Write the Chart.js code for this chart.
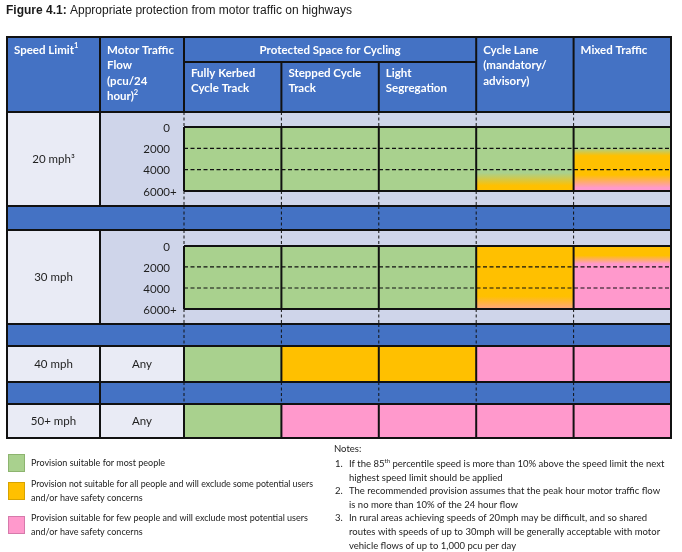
<!DOCTYPE html>
<html>
<head>
<meta charset="utf-8">
<title>Figure 4.1</title>
<script src="https://cdn.jsdelivr.net/npm/chart.js@4.4.1/dist/chart.umd.min.js"></script>
<style>
  html, body { margin: 0; padding: 0; background: #fff; }
  #wrap { width: 682px; height: 552px; }
</style>
</head>
<body>
<div id="wrap"><canvas id="chart" width="682" height="552"></canvas></div>
<script>
const provisionTypes = ['Fully Kerbed Cycle Track', 'Stepped Cycle Track', 'Light Segregation', 'Cycle Lane (mandatory/advisory)', 'Mixed Traffic'];
const provisionHeaderLines = [['Fully Kerbed', 'Cycle Track'], ['Stepped Cycle', 'Track'], ['Light', 'Segregation'], ['Cycle Lane', '(mandatory/', 'advisory)'], ['Mixed Traffic']];
const speedLimits = ['20 mph³', '30 mph', '40 mph', '50+ mph'];
const flowTicks = [0, 2000, 4000, 6000];
const flowTickLabels = ['0', '2000', '4000', '6000+'];
const anyFlowLabel = 'Any';

// 1 = suitable for most people, 2 = excludes some users, 3 = suitable for few people
const suitabilityColors = ['#a9d18e', '#ffc000', '#ff99cc'];
// colour stops down the flow axis, [flow, level]
const zones20mph = [
  [[0, 1]],
  [[0, 1]],
  [[0, 1]],
  [[4300, 1], [5500, 2]],
  [[2000, 1], [2700, 2], [4500, 2], [5700, 3]],
];
const zones30mph = [
  [[0, 1]],
  [[0, 1]],
  [[0, 1]],
  [[4800, 2], [6700, 3]],
  [[900, 2], [1700, 3]],
];
const levels40mph = [1, 2, 2, 3, 3];
const levels50mph = [1, 3, 3, 3, 3];

const legendLabels = [
  ['Provision suitable for most people'],
  ['Provision not suitable for all people and will exclude some potential users', 'and/or have safety concerns'],
  ['Provision suitable for few people and will exclude most potential users', 'and/or have safety concerns'],
];
const notes = [
  ['If the 85^th^ percentile speed is more than 10% above the speed limit the next', 'highest speed limit should be applied'],
  ['The recommended provision assumes that the peak hour motor traffic flow', 'is no more than 10% of the 24 hour flow'],
  ['In rural areas achieving speeds of 20mph may be difficult, and so shared', 'routes with speeds of up to 30mph will be generally acceptable with motor', 'vehicle flows of up to 1,000 pcu per day'],
];

const BLUE = '#4472c4', PALE = '#e9ebf5', LAVENDER = '#cfd5ea', INK = '#111';
const FONT = 'Lato, "Open Sans", sans-serif';
const TABLE_LEFT = 7, FLOW_COL_X = 100, HEADER_TOP = 37, SUBHEAD_Y = 62;

function zoneFill(ctx, axisId, zones) {
  const stops = zones[ctx.dataIndex];
  const first = stops[0], last = stops[stops.length - 1];
  if (stops.length === 1) return suitabilityColors[first[1] - 1];
  const y = ctx.chart.scales[axisId];
  if (!y) return suitabilityColors[first[1] - 1];
  const g = ctx.chart.ctx.createLinearGradient(0, y.getPixelForValue(first[0]), 0, y.getPixelForValue(last[0]));
  stops.forEach(([flow, level]) => {
    g.addColorStop((flow - first[0]) / (last[0] - first[0]), suitabilityColors[level - 1]);
  });
  return g;
}

function rowAxis(weight, min, max) {
  return {
    type: 'linear', position: 'right', stack: 'rows', stackWeight: weight,
    reverse: true, min: min, max: max,
    ticks: { display: false }, grid: { display: false }, border: { display: false },
    afterFit: (s) => { s.width = 0; },
  };
}

function line(ctx, x1, y1, x2, y2, width, dash) {
  ctx.save();
  ctx.strokeStyle = INK;
  ctx.lineWidth = width;
  ctx.setLineDash(dash || []);
  ctx.beginPath();
  ctx.moveTo(x1, y1);
  ctx.lineTo(x2, y2);
  ctx.stroke();
  ctx.restore();
}

// text with ^superscript^ parts
function richText(ctx, text, x, y, size, weight) {
  text.split('^').forEach((part, i) => {
    const sup = i % 2 === 1;
    ctx.font = `${weight || ''} ${sup ? size * 0.65 : size}px ${FONT}`;
    ctx.fillText(part, x, sup ? y - size * 0.35 : y);
    x += ctx.measureText(part).width;
  });
}

const tablePlugin = {
  id: 'tableFrame',
  beforeDatasetsDraw(chart) {
    const { ctx, chartArea: area, scales } = chart;
    ctx.save();
    ctx.fillStyle = BLUE;
    ctx.fillRect(TABLE_LEFT, HEADER_TOP, area.right - TABLE_LEFT, area.top - HEADER_TOP);
    ['y20', 'y30', 'y40', 'y50'].forEach((id, i) => {
      const s = scales[id];
      const flowRow = i < 2;
      ctx.fillStyle = PALE;
      ctx.fillRect(TABLE_LEFT, s.top, FLOW_COL_X - TABLE_LEFT, s.height);
      ctx.fillStyle = flowRow ? LAVENDER : PALE;
      ctx.fillRect(FLOW_COL_X, s.top, area.left - FLOW_COL_X, s.height);
      if (flowRow) ctx.fillRect(area.left, s.top, area.width, s.height);
    });
    ['gap1', 'gap2', 'gap3'].forEach((id) => {
      const s = scales[id];
      ctx.fillStyle = BLUE;
      ctx.fillRect(TABLE_LEFT, s.top, area.right - TABLE_LEFT, s.height);
    });
    ctx.restore();
  },
  afterDatasetsDraw(chart) {
    const { ctx, chartArea: area, scales } = chart;
    const x = scales.x;
    const colW = x.width / provisionTypes.length;
    const edges = provisionTypes.map((_, i) => x.getPixelForValue(i) - colW / 2);
    const dashV = [3, 2.5], dashH = [4, 2.5];

    // flow blocks: coloured band with dashed flow lines
    ['y20', 'y30'].forEach((id) => {
      const s = scales[id];
      const top = s.getPixelForValue(flowTicks[0]);
      const bot = s.getPixelForValue(flowTicks[flowTicks.length - 1]);
      flowTicks.slice(1, -1).forEach((t) => {
        const py = s.getPixelForValue(t);
        line(ctx, area.left, py, area.right, py, 1.2, dashH);
      });
      line(ctx, area.left, top, area.right, top, 2);
      line(ctx, area.left, bot, area.right, bot, 2);
      edges.forEach((ex) => {
        line(ctx, ex, top, ex, bot, 2);
        line(ctx, ex, s.top, ex, top, 1, dashV);
        line(ctx, ex, bot, ex, s.bottom, 1, dashV);
      });
    });
    ['y40', 'y50'].forEach((id) => {
      const s = scales[id];
      edges.forEach((ex) => line(ctx, ex, s.top, ex, s.bottom, 2));
    });
    ['gap1', 'gap2', 'gap3'].forEach((id) => {
      const s = scales[id];
      edges.forEach((ex) => line(ctx, ex, s.top, ex, s.bottom, 1, dashV));
      line(ctx, TABLE_LEFT, s.top, area.right, s.top, 2);
      line(ctx, TABLE_LEFT, s.bottom, area.right, s.bottom, 2);
    });
    // speed / flow column divider, open across the first two separators
    ['y20', 'y30', 'y40', 'gap3', 'y50'].forEach((id) => {
      const s = scales[id];
      line(ctx, FLOW_COL_X, s.top, FLOW_COL_X, s.bottom, 2);
    });

    // header grid
    line(ctx, TABLE_LEFT, area.top, area.right, area.top, 2);
    [FLOW_COL_X, area.left, edges[3], edges[4]].forEach((ex) => line(ctx, ex, HEADER_TOP, ex, area.top, 2));
    [edges[1], edges[2]].forEach((ex) => line(ctx, ex, SUBHEAD_Y, ex, area.top, 2));
    line(ctx, area.left, SUBHEAD_Y, edges[3], SUBHEAD_Y, 2);
    ctx.save();
    ctx.strokeStyle = INK;
    ctx.lineWidth = 2;
    ctx.strokeRect(TABLE_LEFT, HEADER_TOP, area.right - TABLE_LEFT, area.bottom - HEADER_TOP);
    ctx.restore();

    // header text
    ctx.save();
    ctx.fillStyle = '#fff';
    ctx.textBaseline = 'middle';
    ctx.textAlign = 'left';
    const hs = 11.5;
    richText(ctx, 'Speed Limit^1^', TABLE_LEFT + 7, 50, hs, 'bold');
    ['Motor Traffic', 'Flow', '(pcu/24', 'hour)^2^'].forEach((t, i) => richText(ctx, t, FLOW_COL_X + 7, 50 + i * 15.5, hs, 'bold'));
    ctx.font = `bold ${hs}px ${FONT}`;
    ctx.textAlign = 'center';
    ctx.fillText('Protected Space for Cycling', (area.left + edges[3]) / 2, 50);
    ctx.textAlign = 'left';
    provisionHeaderLines.forEach((lines, i) => {
      const y0 = i < 3 ? 73 : 50;
      lines.forEach((t, j) => ctx.fillText(t, edges[i] + 7, y0 + j * 15.5));
    });
    ctx.restore();

    // row labels and flow ticks
    ctx.save();
    ctx.fillStyle = '#1f1f1f';
    ctx.textBaseline = 'middle';
    ctx.font = `11.5px ${FONT}`;
    ['y20', 'y30', 'y40', 'y50'].forEach((id, i) => {
      const s = scales[id];
      const cy = (s.top + s.bottom) / 2;
      ctx.textAlign = 'center';
      ctx.fillText(speedLimits[i], (TABLE_LEFT + FLOW_COL_X) / 2, cy);
      if (i < 2) {
        ctx.textAlign = 'left';
        flowTickLabels.forEach((lbl, k) => {
          const digits = lbl.replace('+', '');
          ctx.fillText(lbl, area.left - 14 - ctx.measureText(digits).width, s.getPixelForValue(flowTicks[k]) + 1);
        });
      } else {
        ctx.textAlign = 'center';
        ctx.fillText(anyFlowLabel, (FLOW_COL_X + area.left) / 2, cy);
      }
    });
    ctx.restore();
  },
  afterDraw(chart) {
    const { ctx } = chart;
    ctx.save();
    ctx.textBaseline = 'middle';
    ctx.textAlign = 'left';
    // title
    ctx.fillStyle = '#1a1a1a';
    ctx.font = 'bold 12px "Liberation Sans", Arial, sans-serif';
    ctx.fillText('Figure 4.1:', 6, 11);
    const tw = ctx.measureText('Figure 4.1: ').width;
    ctx.font = '12px "Liberation Sans", Arial, sans-serif';
    ctx.fillText('Appropriate protection from motor traffic on highways', 6 + tw, 11);

    // legend
    const legendY = [463, 491, 525];
    const legendStroke = ['#8db46f', '#d7a300', '#d67aab'];
    legendLabels.forEach((lines, i) => {
      ctx.fillStyle = suitabilityColors[i];
      ctx.fillRect(8, legendY[i] - 9, 17, 18);
      ctx.strokeStyle = legendStroke[i];
      ctx.lineWidth = 1;
      ctx.strokeRect(8.5, legendY[i] - 8.5, 16, 17);
      ctx.fillStyle = '#222';
      ctx.font = `9px ${FONT}`;
      const y0 = legendY[i] - (lines.length - 1) * 7;
      lines.forEach((t, j) => ctx.fillText(t, 31, y0 + j * 14, 282));
    });

    // notes
    ctx.fillStyle = '#222';
    ctx.font = `9.5px ${FONT}`;
    ctx.fillText('Notes:', 334, 449);
    let ny = 464;
    notes.forEach((lines, i) => {
      ctx.font = `9.5px ${FONT}`;
      ctx.fillText(`${i + 1}.`, 335, ny);
      lines.forEach((t) => {
        richText(ctx, t, 349, ny, 9.5);
        ny += 13.6;
      });
    });
    ctx.restore();
  },
};

new Chart(document.getElementById('chart'), {
  type: 'bar',
  data: {
    labels: provisionTypes,
    datasets: [
      { yAxisID: 'y20', data: provisionTypes.map(() => [flowTicks[0], flowTicks[flowTicks.length - 1]]), backgroundColor: (c) => zoneFill(c, 'y20', zones20mph) },
      { yAxisID: 'y30', data: provisionTypes.map(() => [flowTicks[0], flowTicks[flowTicks.length - 1]]), backgroundColor: (c) => zoneFill(c, 'y30', zones30mph) },
      { yAxisID: 'y40', data: levels40mph.map(() => [0, 1]), backgroundColor: levels40mph.map((l) => suitabilityColors[l - 1]) },
      { yAxisID: 'y50', data: levels50mph.map(() => [0, 1]), backgroundColor: levels50mph.map((l) => suitabilityColors[l - 1]) },
    ],
  },
  options: {
    responsive: false,
    animation: false,
    events: [],
    layout: { autoPadding: false, padding: { left: 184, right: 11, top: 112, bottom: 114 } },
    datasets: { bar: { grouped: false, barPercentage: 1, categoryPercentage: 1, borderWidth: 0 } },
    plugins: { legend: { display: false }, tooltip: { enabled: false } },
    scales: {
      x: {
        type: 'category', offset: true,
        ticks: { display: false }, grid: { display: false }, border: { display: false },
        afterFit: (s) => { s.height = 0; },
      },
      y20: rowAxis(94, -1410, 7410),
      gap1: rowAxis(24, 0, 1),
      y30: rowAxis(94, -1520, 7430),
      gap2: rowAxis(22, 0, 1),
      y40: rowAxis(36, 0, 1),
      gap3: rowAxis(22, 0, 1),
      y50: rowAxis(34, 0, 1),
    },
  },
  plugins: [tablePlugin],
});
</script>
</body>
</html>
